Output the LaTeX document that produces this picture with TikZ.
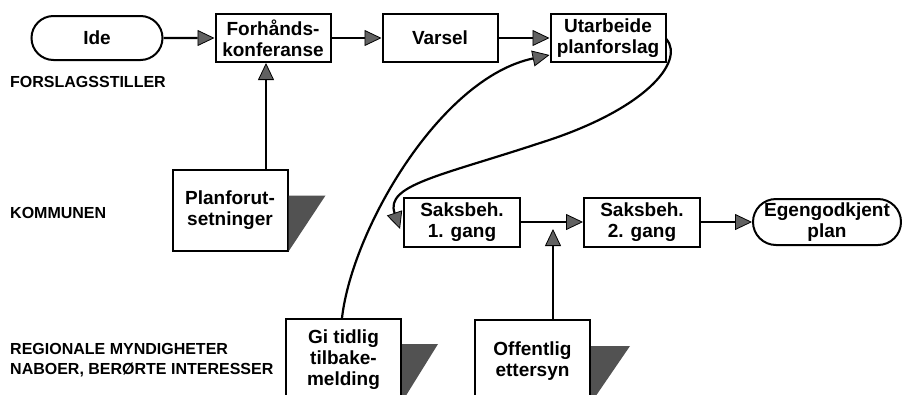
\documentclass[tikz,border=0pt]{standalone}
\usepackage{fontspec}
\setmainfont{Liberation Sans}
\usepackage{tikz}
\usetikzlibrary{positioning,arrows.meta,shapes.misc}
\tikzset{
  mod/.style={draw, line width=2pt, fill=white, minimum height=48pt, minimum width=115pt, font=\fontsize{19}{21}\selectfont\bfseries, align=center, inner sep=2pt},
  term/.style={mod, rounded rectangle, minimum width=135pt, minimum height=44pt},
  flap/.style={fill=black!68},
  lbl/.style={font=\fontsize{16}{20}\selectfont\bfseries, align=left, anchor=west, inner sep=0pt},
  flow/.style={-{Triangle[length=17pt, width=16pt, fill=black!62, line width=0.8pt]}, line width=2.2pt},
}

\begin{document}
\begin{tikzpicture}[x=1pt, y=1pt]
\useasboundingbox (0,0) rectangle (902,-394);
% forslagsstiller
\node[term] (ide) at (97,-38) {Ide};
\node[mod, right=51pt of ide] (fork) {Forhånds-\\konferanse};
\node[mod, right=50pt of fork] (varsel) {Varsel};
\node[mod, right=51pt of varsel] (utarb) {Utarbeide\\planforslag};
% kommunen
\node[mod, minimum height=81pt] (plan) at (230,-210) {Planforut-\\setninger};
\node[mod, minimum width=116pt, minimum height=49pt] (saks1) at (462,-222) {Saksbeh.\\1. gang};
\node[mod, minimum width=116pt, minimum height=49pt, right=62pt of saks1] (saks2) {Saksbeh.\\2. gang};
\node[term, minimum width=152pt, minimum height=46pt, right=51pt of saks2] (egen) {Egengodkjent\\plan};
% regionale myndigheter
\node[mod, minimum height=82pt] (tidlig) at (343.5,-360) {Gi tidlig\\tilbake-\\melding};
\node[mod, minimum height=82pt] (offentlig) at (532.5,-361) {Offentlig\\ettersyn};
\foreach \b/\d/\w in {plan/27/37, tidlig/26/36, offentlig/27/39}
  \fill[flap] (\b.north east) ++(0,-\d) -- ++(\w,0) -- (\b.south east) -- cycle;

\node[lbl] (lforslag) at (10,-82) {FORSLAGSSTILLER};
\node[lbl] (lkommune) at (10,-213) {KOMMUNEN};
\node[lbl] (lregion) at (10,-360) {REGIONALE MYNDIGHETER\\NABOER, BERØRTE INTERESSER};

\draw[flow] (ide) -- (fork);
\draw[flow] (fork) -- (varsel);
\draw[flow] (varsel) -- (utarb);
\draw[flow] ([xshift=-7pt]fork.south |- plan.north) -- ([xshift=-7pt]fork.south);
\draw[flow] (saks1) -- (saks2);
\draw[flow] (saks2) -- (egen);
\coordinate (join) at (553,-229);
\draw[flow] (offentlig.north -| join) -- (join);
% kurvene
\draw[flow] ([xshift=-1.5pt]tidlig.north) .. controls (352,-230) and (440,-78) .. ([yshift=-17pt]utarb.west);
\draw[flow] ([yshift=-1pt]utarb.east) .. controls (685,-62) and (645,-110) .. (540,-143)
  .. controls (440,-176) and (385,-185) .. ([xshift=-3pt,yshift=-7pt]saks1.west);
\end{tikzpicture}
\end{document}
